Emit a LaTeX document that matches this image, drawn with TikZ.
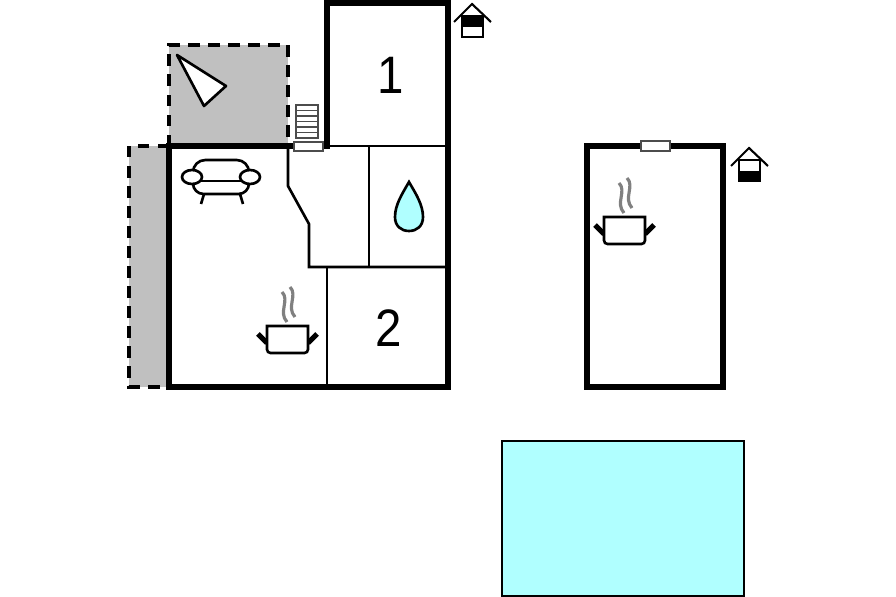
\documentclass[tikz,border=0pt]{standalone}
\usepackage{fontspec}
\setmainfont{Liberation Sans}

\definecolor{terrace}{RGB}{192,192,192}
\definecolor{water}{RGB}{176,255,255}

\tikzset{
	thickwall/.style = {line width = 2.9pt, line cap = rect},
	thinwall/.style = {line width = 1.5pt},
	terracearea/.style = {fill = terrace},
	dashedge/.style = {line width = 2.1pt, dash pattern = on 6.5pt off 4.9pt},
	window/.style = {draw = black!70, fill = white, line width = 0.7pt},
	roomnumber/.style = {font = \addfontfeature{FakeStretch = 0.9}\fontsize{30}{30}\selectfont, inner sep = 0pt},
	pot/.pic = {
		\draw [gray, line width = 1.8pt] (15, -34) .. controls (23, -26) and (11, -14) .. (20, -4);
		\draw [gray, line width = 1.8pt] (23, -39) .. controls (31, -31) and (19, -19) .. (28, -9);
		\draw [line width = 3pt] (0, 17) -- (-9, 8) (41, 17) -- (50, 8);
		\draw [thinwall, fill = white] (0, 0) -- (0, 24) [rounded corners = 2pt] -- (0, 27) -- (41, 27) [sharp corners] -- (41, 0) -- cycle;
	},
	housemark/.pic = {
		\draw [line width = 1.2pt] (-18, 18) -- (0, 0) -- (19, 18);
		\draw [line width = 1.2pt, fill = white] (-10, 12) rectangle (11, 33);
	}
}

\begin{document}
\begin{tikzpicture}[x = 0.02cm, y = -0.02cm]

	\useasboundingbox (0, 0) rectangle (896, 597);

	% Terraces

	\fill [terracearea] (169, 45) rectangle (288, 146);
	\fill [terracearea] (129, 146) rectangle (169, 387);
	\draw [dashedge] (169, 146) -- (169, 45) -- (288, 45) -- (288, 146);
	\draw [dashedge] (169, 146) -- (129, 146) -- (129, 387) -- (169, 387);

	% Inner walls

	\draw [thinwall] (288, 146) -- (288, 186) -- (309, 224) -- (309, 267) -- (448, 267);
	\draw [thinwall] (327, 146) -- (448, 146);
	\draw [thinwall] (369, 146) -- (369, 267);
	\draw [thinwall] (327, 267) -- (327, 387);

	% Outer walls

	\draw [thickwall] (169, 146) -- (327, 146) -- (327, 3) -- (448, 3) -- (448, 387) -- (169, 387) -- cycle;
	\draw [thickwall] (587, 146) rectangle (723, 387);

	% Windows + stairs

	\draw [window] (294, 142) rectangle (323, 151);
	\draw [window] (641, 141) rectangle (670, 151);
	\draw [window] (296, 105) rectangle (318, 138);
	\foreach \y in {110.5, 116, ..., 133}
		\draw [window] (296, \y) -- (318, \y);

	% Compass

	\draw [thinwall, fill = white, line join = round] (177, 55) -- (226, 86) -- (204, 106) -- cycle;

	% Sofa

	\draw [thinwall, fill = white, rounded corners = 7pt] (193, 182) -- (193, 160) -- (249, 160) -- (249, 182);
	\draw [thinwall, fill = white, rounded corners = 6pt] (193, 180) -- (193, 194) -- (249, 194) -- (249, 180);
	\draw [thinwall] (201, 181) -- (241, 181);
	\draw [thinwall] (204, 194) -- (201, 204) (240, 194) -- (243, 204);
	\draw [thinwall, fill = white] (192, 177) ellipse (10 and 7);
	\draw [thinwall, fill = white] (250, 177) ellipse (10 and 7);

	% Water drop

	\draw [thinwall, fill = water, line join = miter] (409, 182) .. controls (402, 194) and (395, 205) .. (395, 217) .. controls (395, 226) and (401, 231) .. (409, 231) .. controls (417, 231) and (423, 226) .. (423, 217) .. controls (423, 205) and (416, 194) .. cycle;

	% Pots

	\pic at (267, 326) {pot};
	\pic at (604, 217) {pot};

	% House marks

	\pic at (472, 4) {housemark};
	\fill (462, 16) rectangle (483, 27);
	\pic at (749, 148) {housemark};
	\fill (739, 171) rectangle (760, 181);

	% Room numbers

	\node [roomnumber] (room1) at (391, 75) {1};
	\node [roomnumber] (room2) at (389, 328) {2};

	% Pool

	\draw [line width = 1pt, fill = water] (502, 441) rectangle (744, 596);

\end{tikzpicture}
\end{document}
